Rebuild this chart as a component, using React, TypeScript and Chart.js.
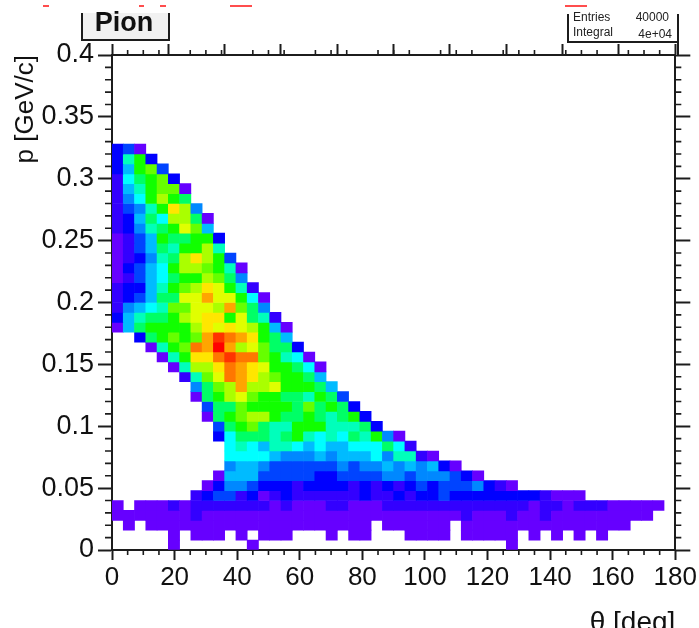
import React, { useEffect, useRef } from "react";
import Chart from "chart.js/auto";

const WIDTH = 699;
const HEIGHT = 628;
const FONT = "'Liberation Sans', Arial, sans-serif";
const INK = "#1c1c1c";

const xBinWidth = 3.6;
const yBinWidth = 0.008;
const xMinorTicks = [5,10,15,25,30,35,45,50,55,65,70,75,85,90,95,105,110,115,125,130,135,145,150,155,165,170,175];
const yMinorTicks = [0.01,0.02,0.03,0.04,0.06,0.07,0.08,0.09,0.11,0.12,0.13,0.14,0.16,0.17,0.18,0.19,0.21,0.22,0.23,0.24,0.26,0.27,0.28,0.29,0.31,0.32,0.33,0.34,0.36,0.37,0.38,0.39];

const palette = ["", "#6600ff","#3300ff","#0000ff","#0044ff","#0088ff","#00bbff","#00ffff","#00ffbb","#00ff66","#11ff00","#66ff00","#aaff00","#e0ff00","#ffe600","#ffa500","#ff7700","#ff3300","#ff0000"];

const row00 = [0,0,0,0,0,1,0,0,0,0,0,0,1,0,0,0,0,0,0,0,0,0,0,0,0,0,0,0,0,0,0,0,0,0,0,1];
const row01 = [0,0,0,0,0,1,0,1,1,1,0,1,0,1,1,1,0,0,0,1,0,1,1,0,0,0,1,1,1,1,0,1,1,1,1,1,0,1,0,1,0,1,0,1];
const row02 = [0,1,0,1,1,1,1,1,1,1,1,1,1,1,1,1,1,1,1,1,1,1,1,0,1,1,1,1,1,1,0,1,1,1,1,1,1,1,1,1,1,1,1,1,1,1];
const row03 = [1,1,1,1,1,1,1,2,1,1,1,1,1,1,1,1,1,1,1,1,1,1,1,1,1,1,1,1,1,1,1,2,1,1,1,2,1,1,2,1,1,1,1,1,1,1,1,1];
const row04 = [1,0,1,1,1,2,1,2,2,2,2,2,2,2,1,2,1,1,1,2,2,1,1,1,2,2,2,2,2,2,2,2,2,2,2,2,2,1,2,2,1,2,2,2,1,1,1,1,1];
const row05 = [0,0,0,0,0,0,0,2,3,4,4,2,3,1,2,3,2,2,2,2,2,2,3,2,2,3,2,3,3,4,3,3,3,3,3,3,3,3,2,1,1,1];
const row06 = [0,0,0,0,0,0,0,0,1,3,5,5,4,3,3,3,2,3,3,3,3,2,3,2,3,2,3,4,3,4,4,4,5,3,2,1];
const row07 = [0,0,0,0,0,0,0,0,0,1,6,6,6,4,4,4,4,4,3,3,4,4,4,4,5,5,4,5,5,5,4,3,1];
const row08 = [0,0,0,0,0,0,0,0,0,0,5,6,6,5,4,4,4,4,4,4,5,4,5,5,6,5,6,5,6,3,1];
const row09 = [0,0,0,0,0,0,0,0,0,0,7,7,7,7,6,5,5,5,6,5,6,6,6,7,5,8,8,2,1];
const row10 = [0,0,0,0,0,0,0,0,0,0,7,8,7,6,8,8,7,6,7,6,6,7,7,7,9,7,2];
const row11 = [0,0,0,0,0,0,0,0,0,3,7,9,9,9,8,9,10,8,7,8,7,9,8,10,5,1];
const row12 = [0,0,0,0,0,0,0,0,0,4,9,10,11,9,8,8,10,10,10,8,8,8,9,3];
const row13 = [0,0,0,0,0,0,0,0,1,9,10,11,12,12,10,9,9,10,9,8,9,10,3];
const row14 = [0,0,0,0,0,0,0,0,4,9,9,11,10,10,10,10,9,11,9,10,9,3];
const row15 = [0,0,0,0,0,0,0,1,9,10,12,13,11,10,10,9,9,8,10,9,4];
const row16 = [0,0,0,0,0,0,0,5,9,11,12,15,12,12,13,10,10,10,9,6];
const row17 = [0,0,0,0,0,0,2,8,11,13,16,15,14,12,11,10,10,9,6];
const row18 = [0,0,0,0,0,1,8,12,12,14,16,15,14,13,10,10,9,7,1];
const row19 = [0,0,0,0,1,8,10,14,14,16,17,16,16,11,10,8,7,1];
const row20 = [0,0,0,1,8,10,11,16,15,18,15,12,13,11,9,9,3];
const row21 = [0,0,3,9,10,11,10,11,15,17,16,15,14,10,9,6];
const row22 = [1,6,9,10,10,10,10,12,14,13,14,13,12,10,6,1];
const row23 = [3,6,8,9,9,10,12,13,14,14,10,13,9,8,2];
const row24 = [2,5,6,7,8,11,11,13,13,12,15,11,9,5];
const row25 = [2,3,4,6,9,9,13,13,15,13,13,10,7,1];
const row26 = [2,3,3,6,8,10,11,12,14,13,10,8,2];
const row27 = [1,2,4,6,7,9,10,10,12,11,9,5];
const row28 = [1,3,4,6,7,10,12,12,11,10,8,1];
const row29 = [1,2,3,5,8,9,12,14,12,10,4];
const row30 = [1,2,4,6,9,8,10,10,12,8];
const row31 = [1,2,4,6,10,9,9,10,10,3];
const row32 = [2,3,5,8,9,10,13,11,6];
const row33 = [2,3,6,9,7,12,12,9,1];
const row34 = [2,4,5,8,10,14,12,5];
const row35 = [2,5,7,10,12,10,9];
const row36 = [2,6,8,10,11,11,1];
const row37 = [2,7,9,10,11,3];
const row38 = [3,6,10,11,4];
const row39 = [3,8,10,3];
const row40 = [3,4,1];

const rows = [row00,row01,row02,row03,row04,row05,row06,row07,row08,row09,row10,row11,row12,row13,row14,row15,row16,row17,row18,row19,row20,row21,row22,row23,row24,row25,row26,row27,row28,row29,row30,row31,row32,row33,row34,row35,row36,row37,row38,row39,row40];

const cells: { x: number; y: [number, number] }[] = [];
const cellColors: string[] = [];
rows.forEach((row, j) => {
  row.forEach((level, i) => {
    if (!level) return;
    cells.push({ x: (i + 0.5) * xBinWidth, y: [j * yBinWidth, (j + 1) * yBinWidth] });
    cellColors.push(palette[level]);
  });
});

const decorations = {
  id: "decorations",
  afterDraw(chart: any) {
    const { ctx, scales } = chart;
    ctx.save();
    // minor ticks on all four sides
    ctx.strokeStyle = INK;
    ctx.lineWidth = 1.6;
    const { left, right, top, bottom } = chart.chartArea;
    ctx.beginPath();
    xMinorTicks.forEach((v) => {
      const p = scales.x.getPixelForValue(v);
      ctx.moveTo(p, bottom);
      ctx.lineTo(p, bottom + 5);
      ctx.moveTo(p, top);
      ctx.lineTo(p, top - 5);
    });
    yMinorTicks.forEach((v) => {
      const p = scales.y.getPixelForValue(v);
      ctx.moveTo(left, p);
      ctx.lineTo(left - 7, p);
      ctx.moveTo(right, p);
      ctx.lineTo(right + 6, p);
    });
    ctx.stroke();

    // red fragments at the top edge
    ctx.fillStyle = "#ff4d4d";
    [[43, 6], [139, 5], [160, 6], [230, 22], [565, 22]].forEach(([x, w]) => ctx.fillRect(x, 5, w, 2));

    // title box
    ctx.fillStyle = "#f1f1f1";
    ctx.fillRect(82, 13, 87, 27);
    ctx.strokeStyle = INK;
    ctx.lineWidth = 2;
    ctx.beginPath();
    ctx.moveTo(82, 13);
    ctx.lineTo(82, 40);
    ctx.lineTo(169, 40);
    ctx.lineTo(169, 13);
    ctx.stroke();
    ctx.fillStyle = "#111";
    ctx.font = `bold 27px ${FONT}`;
    ctx.textAlign = "center";
    ctx.textBaseline = "middle";
    ctx.fillText("Pion", 124, 24);

    // stats box
    ctx.beginPath();
    ctx.moveTo(568, 14);
    ctx.lineTo(568, 42);
    ctx.lineTo(678, 42);
    ctx.moveTo(678, 14);
    ctx.lineTo(678, 55);
    ctx.stroke();
    ctx.font = `12px ${FONT}`;
    ctx.fillStyle = "#222";
    ctx.textAlign = "left";
    ctx.fillText("Entries", 573, 18);
    ctx.fillText("Integral", 573, 33);
    ctx.textAlign = "right";
    ctx.fillText("40000", 669, 18);
    ctx.fillText("4e+04", 672, 35);
    ctx.restore();
  },
};

export default function App() {
  const ref = useRef<HTMLCanvasElement>(null);
  useEffect(() => {
    const chart = new Chart(ref.current as HTMLCanvasElement, {
      type: "bar",
      data: {
        datasets: [
          {
            label: "Pion",
            data: cells as any,
            backgroundColor: cellColors,
            borderWidth: 0,
            barPercentage: 1,
            categoryPercentage: 1,
          },
        ],
      },
      options: {
        responsive: false,
        animation: false,
        layout: { padding: 0 },
        plugins: { legend: { display: false }, tooltip: { enabled: false } },
        scales: {
          x: {
            type: "linear",
            position: "bottom",
            offset: false,
            min: 0,
            max: 180,
            afterFit: (s: any) => { s.height = 78; },
            border: { display: true, width: 2, color: INK },
            grid: { drawOnChartArea: false, tickLength: 10, tickWidth: 2, tickColor: INK, offset: false },
            ticks: { stepSize: 20, maxRotation: 0, autoSkip: false, padding: 2, color: "#111", font: { family: FONT, size: 26 } },
            title: { display: true, text: "θ [deg]", align: "end", color: "#111", font: { family: FONT, size: 28 }, padding: { top: 0, bottom: -12 } },
          },
          x2: {
            type: "linear",
            position: "top",
            min: 0,
            max: 180,
            afterFit: (s: any) => { s.height = 55; },
            border: { display: true, width: 2, color: INK },
            grid: { drawOnChartArea: false, tickLength: 11, tickWidth: 2, tickColor: INK },
            ticks: { stepSize: 20, display: false },
          },
          y: {
            type: "linear",
            position: "left",
            min: 0,
            max: 0.4,
            afterFit: (s: any) => { s.width = 112; },
            border: { display: true, width: 2, color: INK },
            grid: { drawOnChartArea: false, tickLength: 14, tickWidth: 2, tickColor: INK },
            ticks: { stepSize: 0.05, autoSkip: false, padding: 4, color: "#111", font: { family: FONT, size: 27 }, callback: (v: any) => String(+Number(v).toFixed(2)) },
            title: { display: true, text: "p [GeV/c]", align: "end", color: "#111", font: { family: FONT, size: 26 }, padding: { top: 10, bottom: 0 } },
          },
          y2: {
            type: "linear",
            position: "right",
            min: 0,
            max: 0.4,
            afterFit: (s: any) => { s.width = 21; },
            border: { display: true, width: 2, color: INK },
            grid: { drawOnChartArea: false, tickLength: 15, tickWidth: 2, tickColor: INK },
            ticks: { stepSize: 0.05, display: false },
          },
        },
      },
      plugins: [decorations],
    });
    return () => chart.destroy();
  }, []);
  return (
    <div style={{ position: "fixed", left: 0, top: 0, width: WIDTH, height: HEIGHT, background: "#fff" }}>
      <canvas ref={ref} width={WIDTH} height={HEIGHT} style={{ display: "block", filter: "blur(0.4px)" }} />
    </div>
  );
}
